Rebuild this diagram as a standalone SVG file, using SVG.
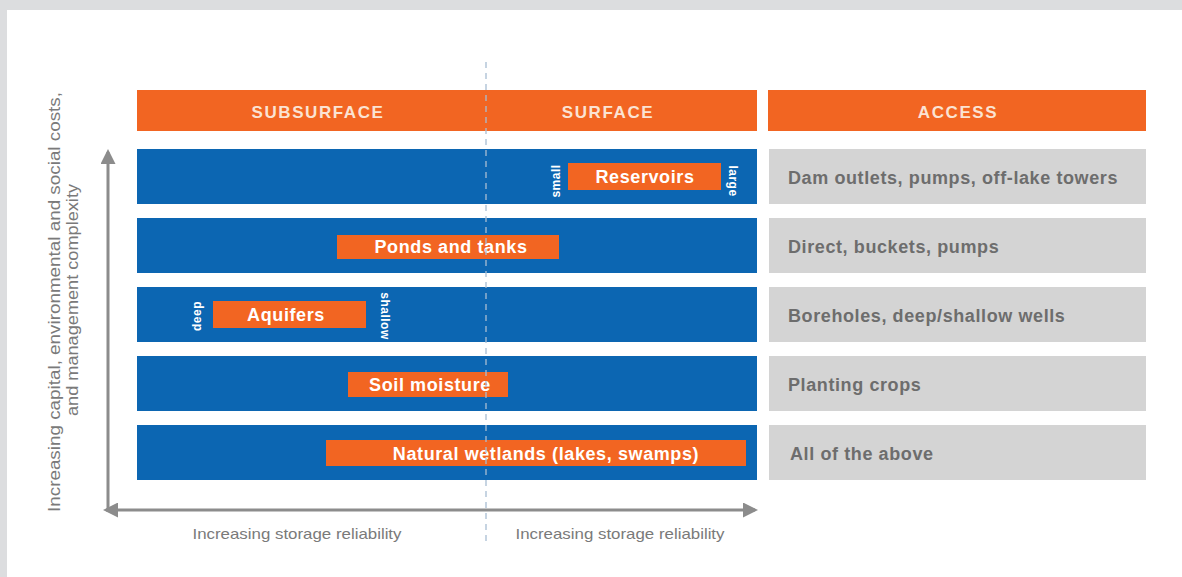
<svg xmlns="http://www.w3.org/2000/svg" width="1182" height="577" viewBox="0 0 1182 577">
<style>
.hdr{fill:#f26522}
.row{fill:#0c66b2}
.acc{fill:#d4d4d4}
.bar{fill:#f26522}
.ht{font-family:"Liberation Sans",Arial,sans-serif;font-weight:bold;font-size:17px;fill:#fbe3d3;text-anchor:middle;letter-spacing:1.6px}
.bt{font-family:"Liberation Sans",Arial,sans-serif;font-weight:bold;font-size:18px;fill:#ffffff;text-anchor:middle;letter-spacing:0.6px}
.at{font-family:"Liberation Sans",Arial,sans-serif;font-weight:bold;font-size:18px;fill:#6d6d6d;letter-spacing:0.6px}
.vt{font-family:"Liberation Sans",Arial,sans-serif;font-weight:bold;font-size:12px;fill:#ffffff;text-anchor:middle;letter-spacing:0.5px}
.ax{font-family:"Liberation Sans",Arial,sans-serif;font-size:15px;fill:#7a7a7a;text-anchor:middle}
.axl{stroke:#8c8c8c;stroke-width:3;fill:none}
</style>
<defs>
<marker id="ah" viewBox="0 0 10 10" refX="8" refY="5" markerWidth="5" markerHeight="5" orient="auto-start-reverse" markerUnits="strokeWidth">
<path d="M0,0 L10,5 L0,10 z" fill="#8c8c8c"/>
</marker>
</defs>
<rect width="1182" height="577" fill="#dcdddf"/>
<rect x="7" y="10" width="1175" height="567" fill="#ffffff"/>

<g id="header-subsurface-surface">
<rect class="hdr" x="137" y="90" width="620" height="41"/>
<text class="ht" x="318" y="118">SUBSURFACE</text>
<text class="ht" x="608" y="118">SURFACE</text>
</g>
<g id="header-access">
<rect class="hdr" x="768" y="90" width="378" height="41"/>
<text class="ht" x="958" y="118">ACCESS</text>
</g>

<g id="row-reservoirs">
<rect class="row" x="137" y="149" width="620" height="55"/>
<rect class="bar" x="568" y="163" width="153" height="27"/>
<text class="bt" x="645" y="183">Reservoirs</text>
<text class="vt" transform="translate(560,181) rotate(-90)">small</text>
<text class="vt" transform="translate(729,181) rotate(90)">large</text>
</g>
<g id="access-reservoirs">
<rect class="acc" x="769" y="149" width="377" height="55"/>
<text class="at" x="788" y="184">Dam outlets, pumps, off-lake towers</text>
</g>

<g id="row-ponds">
<rect class="row" x="137" y="218" width="620" height="55"/>
<rect class="bar" x="337" y="235" width="222" height="24"/>
<text class="bt" x="451" y="253">Ponds and tanks</text>
</g>
<g id="access-ponds">
<rect class="acc" x="769" y="218" width="377" height="55"/>
<text class="at" x="788" y="253">Direct, buckets, pumps</text>
</g>

<g id="row-aquifers">
<rect class="row" x="137" y="287" width="620" height="55"/>
<rect class="bar" x="213" y="301" width="153" height="27"/>
<text class="bt" x="286" y="321">Aquifers</text>
<text class="vt" transform="translate(201,316) rotate(-90)">deep</text>
<text class="vt" transform="translate(381,316) rotate(90)">shallow</text>
</g>
<g id="access-aquifers">
<rect class="acc" x="769" y="287" width="377" height="55"/>
<text class="at" x="788" y="322">Boreholes, deep/shallow wells</text>
</g>

<g id="row-soil">
<rect class="row" x="137" y="356" width="620" height="55"/>
<rect class="bar" x="348" y="372" width="160" height="25"/>
<text class="bt" x="430" y="391">Soil moisture</text>
</g>
<g id="access-soil">
<rect class="acc" x="769" y="356" width="377" height="55"/>
<text class="at" x="788" y="391">Planting crops</text>
</g>

<g id="row-wetlands">
<rect class="row" x="137" y="425" width="620" height="55"/>
<rect class="bar" x="326" y="440" width="420" height="26"/>
<text class="bt" x="546" y="460">Natural wetlands (lakes, swamps)</text>
</g>
<g id="access-wetlands">
<rect class="acc" x="769" y="425" width="377" height="55"/>
<text class="at" x="790" y="460">All of the above</text>
</g>

<g id="connectors">
<line x1="486" y1="62" x2="486" y2="546" stroke="#a8bed3" stroke-width="1.3" stroke-dasharray="6,5"/>
<line class="axl" x1="108" y1="510" x2="108" y2="152" marker-end="url(#ah)"/>
<line class="axl" x1="106" y1="510" x2="755" y2="510" marker-start="url(#ah)" marker-end="url(#ah)"/>
</g>

<g id="axis-labels">
<text class="ax" x="297" y="539" textLength="209" lengthAdjust="spacingAndGlyphs">Increasing storage reliability</text>
<text class="ax" x="620" y="539" textLength="209" lengthAdjust="spacingAndGlyphs">Increasing storage reliability</text>
<text class="ax" style="font-size:16px" transform="translate(60,302) rotate(-90)" textLength="420" lengthAdjust="spacingAndGlyphs">Increasing capital, environmental and social costs,</text>
<text class="ax" style="font-size:16px" transform="translate(78,300) rotate(-90)" textLength="232" lengthAdjust="spacingAndGlyphs">and management complexity</text>
</g>
</svg>
